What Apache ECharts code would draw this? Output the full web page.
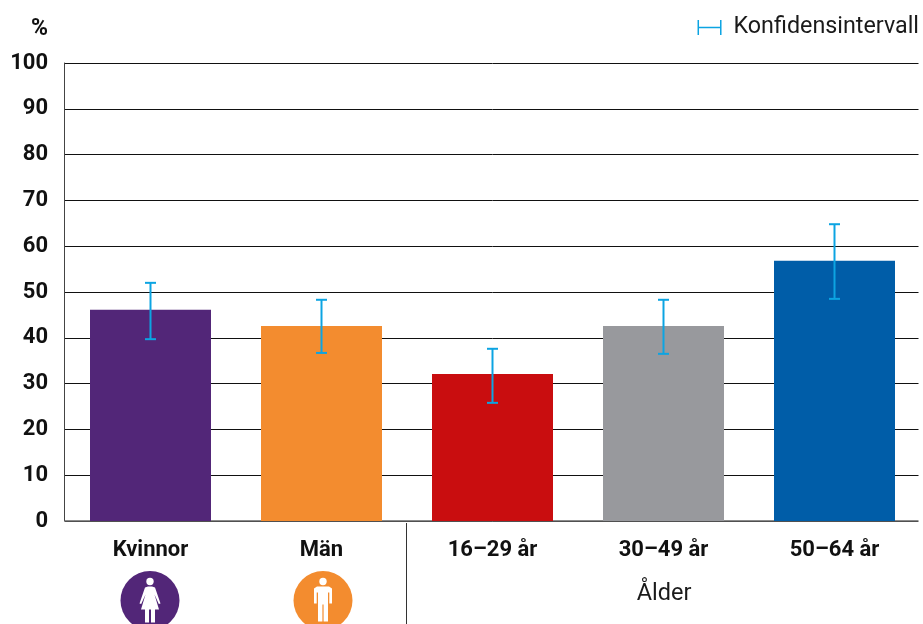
<!DOCTYPE html>
<html><head><meta charset="utf-8">
<style>html,body{margin:0;padding:0;background:#fff}#c{width:923px;height:624px}</style>
<script src="https://cdn.jsdelivr.net/npm/echarts@6/dist/echarts.min.js"></script>
</head><body><div id="c"></div>
<script>
const categories = ['Kvinnor','Män','16–29 år','30–49 år','50–64 år'];
const values = [46.1, 42.6, 32.1, 42.6, 56.8];
const ciLow = [39.7, 36.7, 25.8, 36.5, 48.5];
const ciHigh = [52, 48.3, 37.6, 48.3, 64.8];
const barColors = ['#522678','#f38c2f','#c90d0f','#98999d','#005da8'];
const yTicks = [0,10,20,30,40,50,60,70,80,90,100];
const CI = '#0ca4e2';
const chart = echarts.init(document.getElementById('c'), null, {renderer:'canvas'});

const woman = [[-2,-14],[2,-14],[5,-13],[10.5,3],[8.8,3.6],[4.5,-6],[9,9],[5,9],[5,22],[1,22],[1,9],[-1,9],[-1,22],[-5,22],[-5,9],[-9,9],[-4.5,-6],[-8.8,3.6],[-10.5,3],[-5,-13]];
const man = [[-6,-14],[6,-14],[9,-12],[9,3],[6.3,3],[6.3,-8],[5,-8],[5,21],[0.6,21],[0.6,4],[-0.6,4],[-0.6,21],[-5,21],[-5,-8],[-6.3,-8],[-6.3,3],[-9,3],[-9,-12]];
function person(cx, cy, color, pts){
  return [
    {type:'circle',z:100,shape:{cx,cy,r:29.5},style:{fill:color},silent:true},
    {type:'circle',z:101,shape:{cx,cy:cy-19,r:3.7},style:{fill:'#fff'},silent:true},
    {type:'polygon',z:101,shape:{points:pts.map(p=>[cx+p[0],cy+p[1]])},style:{fill:'#fff'},silent:true}
  ];
}

chart.setOption({
  animation:false,
  backgroundColor:'#fff',
  textStyle:{fontFamily:'Roboto'},
  legend:{
    show:true, right:4, top:16, padding:0, itemWidth:24, itemHeight:15,
    data:[{name:'Konfidensintervall',
      icon:'path://M0 0H1.5V6.7H22.5V0H24V15H22.5V8.3H1.5V15H0Z',
      itemStyle:{color:CI,borderWidth:0}}],
    textStyle:{fontFamily:'Roboto',fontSize:23.3,color:'#1a1a1a',padding:[0,0,0,7]}
  },
  grid:{left:65,top:63,width:855,height:458},
  xAxis:{
    type:'category',data:categories,
    axisLine:{show:true,onZero:false,lineStyle:{color:'#666',width:1.5}},
    axisTick:{show:false},
    axisLabel:{fontFamily:'Roboto',fontWeight:'bold',fontSize:22,color:'#111',margin:18}
  },
  yAxis:{
    type:'value',min:0,max:100,interval:10,offset:1,
    name:'%',nameLocation:'end',nameGap:22,
    nameTextStyle:{fontFamily:'Roboto',fontWeight:'bold',fontSize:23,color:'#111',align:'right',padding:[0,16,0,0]},
    axisLine:{show:true,lineStyle:{color:'#444',width:1}},
    axisTick:{show:false},
    splitLine:{show:true,lineStyle:{color:'#111',width:1}},
    axisLabel:{fontFamily:'Roboto',fontWeight:'bold',fontSize:22,color:'#111',margin:16,
      customValues:yTicks}
  },
  series:[
    {type:'bar',barWidth:121,z:2,
      data:values.map((v,i)=>({value:v,itemStyle:{color:barColors[i]}}))},
    {type:'custom',name:'Konfidensintervall',z:3,
      data:categories.map((c,i)=>[i,ciLow[i],ciHigh[i]]),
      encode:{x:0,y:[1,2]},
      renderItem(params,api){
        const lo=api.coord([api.value(0),api.value(1)]);
        const hi=api.coord([api.value(0),api.value(2)]);
        const x=lo[0], w=5.5;
        const st={stroke:CI,lineWidth:2,fill:null};
        return {type:'group',children:[
          {type:'line',shape:{x1:x,y1:lo[1],x2:x,y2:hi[1]},style:st},
          {type:'line',shape:{x1:x-w,y1:lo[1],x2:x+w,y2:lo[1]},style:st},
          {type:'line',shape:{x1:x-w,y1:hi[1],x2:x+w,y2:hi[1]},style:st}
        ]};
      }}
  ],
  graphic:[
    {type:'rect',z:100,shape:{x:918.5,y:55,width:5,height:470},style:{fill:'#fff'},silent:true},
    {type:'line',z:100,shape:{x1:406.5,y1:523,x2:406.5,y2:624},style:{stroke:'#333',lineWidth:1},silent:true},
    {type:'text',z:100,x:664,y:594,style:{text:'Ålder',font:'23.5px Roboto',fill:'#1a1a1a',textAlign:'center',textVerticalAlign:'middle'},silent:true},
    ...person(150,600.5,barColors[0],woman),
    ...person(323,600.5,barColors[1],man)
  ]
});
</script></body></html>
